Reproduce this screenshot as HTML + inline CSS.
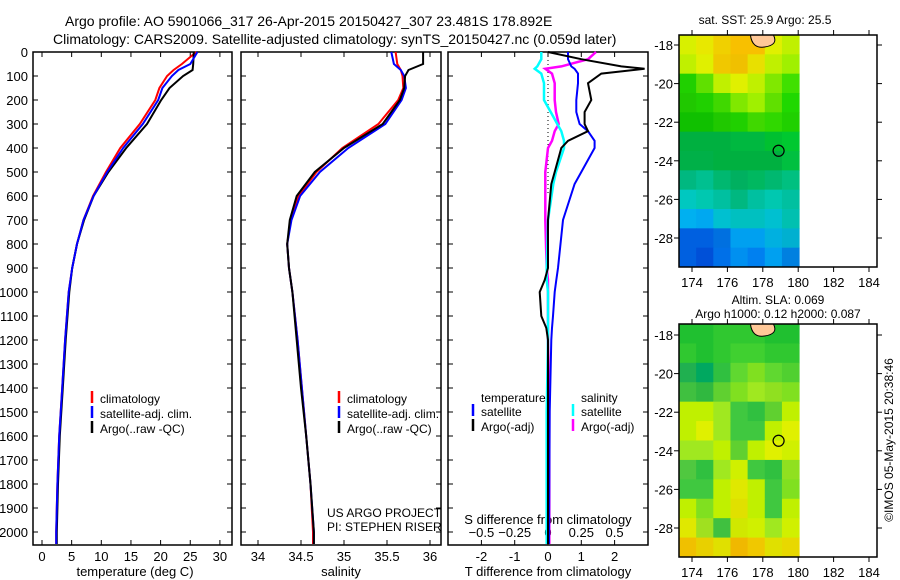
<!DOCTYPE html>
<html><head><meta charset="utf-8"><style>
body{margin:0;background:#fff;}
svg{display:block;font-family:"Liberation Sans",sans-serif;}
</style></head><body>
<svg id="c" width="900" height="580" viewBox="0 0 900 580" xmlns="http://www.w3.org/2000/svg">
<text x="65" y="26" font-size="14">Argo profile: AO 5901066_317 26-Apr-2015 20150427_307 23.481S 178.892E</text>
<text x="53" y="44" font-size="14">Climatology: CARS2009. Satellite-adjusted climatology: synTS_20150427.nc (0.059d later)</text>
<g id="g"></g>
</svg>
<script>
// ---- data ----
const depths   = [0,50,75,100,150,200,300,400,500,600,700,800,900,1000,1200,1400,1600,1800,2000,2050];
const tempArgo = [25.6,25.5,25.4,23.8,21.5,20.1,17.7,14.2,11.2,8.7,7.1,5.9,5.1,4.6,4.0,3.5,3.0,2.7,2.5,2.5];
const tempClim = [26.0,23.6,22.2,21.1,19.8,19.1,16.5,13.2,10.8,8.6,7.0,5.9,5.1,4.5,3.9,3.4,2.9,2.6,2.4,2.4];
const tempSat  = [26.2,25.0,23.0,21.9,20.3,19.6,17.0,13.7,11.0,8.7,7.0,5.9,5.1,4.5,3.9,3.4,2.9,2.6,2.4,2.4];
const salArgo  = [35.92,35.92,35.75,35.71,35.70,35.65,35.45,35.0,34.66,34.45,34.37,34.34,34.36,34.40,34.45,34.50,34.56,34.61,34.65,34.65];
const salClim  = [35.60,35.62,35.66,35.68,35.69,35.63,35.40,34.98,34.68,34.47,34.38,34.34,34.36,34.40,34.46,34.51,34.56,34.61,34.64,34.64];
const salSat   = [35.55,35.58,35.66,35.70,35.72,35.67,35.48,35.05,34.72,34.49,34.39,34.34,34.36,34.40,34.46,34.51,34.56,34.61,34.65,34.65];
const dDepths  = [0,30,60,70,90,130,200,250,300,330,370,400,500,550,700,900,950,1000,1100,1150,1200,1500,2050];
const dTArgo   = [0,1.0,2.2,2.9,1.6,1.2,1.3,1.1,1.1,1.2,0.6,0.4,0.2,0.1,0,0,-0.1,-0.25,-0.2,-0.05,0,0,0];
const dTSat    = [0.6,0.6,0.7,0.8,0.9,0.9,0.85,0.85,0.95,1.2,1.4,1.4,1.0,0.8,0.45,0.3,0.25,0.2,0.15,0.12,0.1,0.05,0.03];
const dSArgo   = [0.36,0.3,0.1,-0.02,0.03,0.05,0.05,0.06,0.08,0.05,0.03,0.0,-0.02,-0.02,-0.02,-0.01,0,0,0,0,0,0.01,0.01];
const dSSat    = [-0.05,-0.05,-0.08,-0.1,-0.05,-0.03,-0.03,0.02,0.07,0.1,0.12,0.12,0.06,0.04,0.0,-0.01,-0.01,0,0,0,0,-0.01,-0.01];
const depthTicks = [0,100,200,300,400,500,600,700,800,900,1000,1100,1200,1300,1400,1500,1600,1700,1800,1900,2000];
const tempTicks = [0,5,10,15,20,25,30];
const salTicks = [34,34.5,35,35.5,36];
const tTicks = [-2,-1,0,1,2];
const sTicks = [-0.5,-0.25,0,0.25,0.5];
const sstColors = [
["#d8f000","#e8e800","#f0d000","#f8c000","#f8c000","#e0f000","#c0f000"],
["#c0f000","#e0f000","#f0c800","#f0c000","#e8e000","#c0f000","#a0f000"],
["#20d000","#60e000","#c0f000","#e0f000","#c0f000","#80e800","#40e000"],
["#20c800","#20d000","#40d800","#80e800","#a0f000","#60e000","#20d800"],
["#10c000","#10c000","#20c800","#20d000","#40d800","#30d800","#20d000"],
["#00b040","#00b040","#00b040","#00b840","#00b840","#00c030","#00c830"],
["#00b048","#00b048","#00b040","#00b040","#00b040","#00b040","#00c040"],
["#00b880","#00c090","#00b870","#00b060","#00b860","#00b870","#00c080"],
["#00c8c0","#00c8b0","#00c0a0","#00b880","#00c0a0","#00c8b0","#00c0a0"],
["#00b0f0","#00a8f0","#00c0d0","#00c0c0","#00c0c0","#00c0d0","#00c0b0"],
["#0060e0","#0060e0","#0070e0","#00a0f0","#00a0f0","#00b0e0","#00b0d0"],
["#0060e0","#0050d8","#0070e8","#0090f0","#0080f0","#00a0f0","#0080e0"]];
const slaColors = [
["#20c030","#20c030","#30c830","#30c830","#30c830","#20c030","#20c030"],
["#30c830","#20c030","#30c830","#40d030","#40d030","#30c830","#30c830"],
["#20b050","#00a860","#30c040","#60d830","#80e020","#60d830","#50d030"],
["#40c040","#30b840","#60d030","#80e020","#a0e820","#90e020","#80e020"],
["#c0f000","#c0f000","#a0e820","#40c840","#30c040","#60d030","#c0f000"],
["#c0f000","#e0f000","#a0e820","#40c840","#40c840","#c0f000","#e0f000"],
["#a0e820","#a0e820","#c0f000","#60d030","#c0f000","#e0f000","#d0f000"],
["#50c840","#30c040","#a0e820","#d0f000","#40c840","#30c040","#90e020"],
["#40c840","#40c840","#c0f000","#e0e800","#c0f000","#40c840","#80e020"],
["#c0f000","#80e020","#c0f000","#e0e000","#c0f000","#40c840","#c0f000"],
["#e0e800","#a0e020","#40c040","#d0e800","#d0f000","#a0e820","#d0f000"],
["#f0c000","#e8d000","#e0e000","#f0b800","#f0c800","#e0e000","#e8d800"]];
const lonTicks=[174,176,178,180,182,184];
const latTicks=[-18,-20,-22,-24,-26,-28];
const argoLon=178.892, argoLat=-23.481;

// ---- drawing ----
const NS="http://www.w3.org/2000/svg";
const G=document.getElementById('g');
function mk(tag,attrs,parent){const e=document.createElementNS(NS,tag);for(const k in attrs)e.setAttribute(k,attrs[k]);(parent||G).appendChild(e);return e;}
const top0=52, bot=545;
const yD=d=>top0+d*0.24;
const panels=[{x0:33,x1:232},{x0:241,x1:441},{x0:448,x1:648}];
const xT=v=>42+v*5.93;
const xS=v=>258+(v-34)*86;
const xdT=v=>548+v*33.3;
const xdS=v=>548+v*133.2;

function line(xs,ys,xf,yf,color,w,name){
  const p=mk('polyline',{points:xs.map((v,i)=>xf(v).toFixed(1)+','+yf(ys[i]).toFixed(1)).join(' '),fill:'none',stroke:color,'stroke-width':w});
  
  
}
function txt(x,y,s,size,anchor,name,extra){
  const t=mk('text',Object.assign({x:x,y:y,'font-size':size,'text-anchor':anchor||'start'},extra||{}));t.textContent=s;
  
  
  return t;
}
panels.forEach((p,i)=>{
  const r=mk('rect',{x:p.x0,y:top0,width:p.x1-p.x0,height:bot-top0,fill:'none',stroke:'#000','stroke-width':1.5});
  
  
  depthTicks.forEach(d=>{mk('line',{x1:p.x0,x2:p.x0+5,y1:yD(d),y2:yD(d),stroke:'#000'});mk('line',{x1:p.x1-5,x2:p.x1,y1:yD(d),y2:yD(d),stroke:'#000'});});
});
depthTicks.forEach(d=>txt(28,yD(d)+5,String(d),13,'end','depth-tick-label'));
function xticks(ticks,xf,p,labels,name){ticks.forEach(v=>{const x=xf(v);mk('line',{x1:x,x2:x,y1:bot,y2:bot-5,stroke:'#000'});mk('line',{x1:x,x2:x,y1:top0,y2:top0+5,stroke:'#000'});if(labels)txt(x,bot+16,String(v),13,'middle',name);});}
xticks(tempTicks,xT,panels[0],true,'temp-tick-label');
xticks(salTicks,xS,panels[1],true,'salinity-tick-label');
xticks(tTicks,xdT,panels[2],true,'tdiff-tick-label');
sTicks.forEach(v=>txt(xdS(v),bot-8,String(v).replace('-','−'),13,'middle','sdiff-tick-label'));
txt(135,576,'temperature (deg C)',13,'middle','x-axis-title-temperature');
txt(341,576,'salinity',13,'middle','x-axis-title-salinity');
txt(548,576,'T difference from climatology',13,'middle','x-axis-title-tdiff');
txt(548,524,'S difference from climatology',13,'middle','x-axis-title-sdiff');
const zl=mk('line',{x1:548,x2:548,y1:top0,y2:yD(600),stroke:'#000','stroke-dasharray':'1,3'});


line(tempClim,depths,xT,yD,'#f00',2,'temp-climatology-line');
line(tempArgo,depths,xT,yD,'#000',2,'temp-argo-line');
line(tempSat,depths,xT,yD,'#00f',2,'temp-satellite-line');
line(salClim,depths,xS,yD,'#f00',2,'sal-climatology-line');
line(salSat,depths,xS,yD,'#00f',2,'sal-satellite-line');
line(salArgo,depths,xS,yD,'#000',2,'sal-argo-line');
line(dSArgo,dDepths,xdS,yD,'#f0f',2.5,'dsal-argo-line');
line(dSSat,dDepths,xdS,yD,'#0ff',2.5,'dsal-satellite-line');
line(dTSat,dDepths,xdT,yD,'#00f',2,'dtemp-satellite-line');
line(dTArgo,dDepths,xdT,yD,'#000',2,'dtemp-argo-line');
function leg(x,y,color,label,name){const l=mk('line',{x1:x,x2:x,y1:y-12,y2:y,stroke:color,'stroke-width':2.5});txt(x+8,y,label,12,'start',name);}
[[92,'#f00','climatology'],[92,'#00f','satellite-adj. clim.'],[92,'#000','Argo(..raw -QC)']].forEach((a,i)=>leg(a[0],403+i*15,a[1],a[2],'legend-entry-p1'));
[[339,'#f00','climatology'],[339,'#00f','satellite-adj. clim.'],[339,'#000','Argo(..raw -QC)']].forEach((a,i)=>leg(a[0],403+i*15,a[1],a[2],'legend-entry-p2'));
txt(481,402,'temperature',12,'start','legend-title-temperature');
txt(581,402,'salinity',12,'start','legend-title-salinity');
leg(473,416,'#00f','satellite','legend-entry-tsat');
leg(473,431,'#000','Argo(-adj)','legend-entry-targo');
leg(573,416,'#0ff','satellite','legend-entry-ssat');
leg(573,431,'#f0f','Argo(-adj)','legend-entry-sargo');
txt(327,517,'US ARGO PROJECT',12,'start','project-label');
txt(327,531,'PI: STEPHEN RISER',12,'start','pi-label');
function map(y0,y1,latTop,colors,name){
  const x0=679,x1=877;
  const lonX=l=>692+(l-174)*17.7;
  const latY=l=>latTop+(-18-l)*19.3;
  const cw=(lonX(180.05)-x0)/7, ch=(y1-y0)/12;
  colors.forEach((row,r)=>row.forEach((c,k)=>{const e=mk('rect',{x:x0+k*cw,y:y0+r*ch,width:cw+0.5,height:ch+0.5,fill:c});
    
    }));
  const land=mk('path',{d:`M${lonX(177.3)},${y0} Q${lonX(177.4)},${y0+14} ${lonX(178.1)},${y0+12} Q${lonX(178.9)},${y0+10} ${lonX(178.6)},${y0} Z`,fill:'#ffc898',stroke:'#000'});
  
  
  const fr=mk('rect',{x:x0,y:y0,width:x1-x0,height:y1-y0,fill:'none',stroke:'#000','stroke-width':1.5});
  
  
  lonTicks.forEach(l=>{const x=lonX(l);mk('line',{x1:x,x2:x,y1:y1,y2:y1+5,stroke:'#000'});mk('line',{x1:x,x2:x,y1:y0,y2:y0-5,stroke:'#000'});txt(x,y1+20,String(l),13,'middle',name+'-lon-label');});
  latTicks.forEach(l=>{const y=latY(l);mk('line',{x1:x0,x2:x0-5,y1:y,y2:y,stroke:'#000'});mk('line',{x1:x1,x2:x1+5,y1:y,y2:y,stroke:'#000'});txt(x0-6,y+5,String(l),13,'end',name+'-lat-label');});
  const c=mk('circle',{cx:lonX(argoLon),cy:latY(argoLat),r:5.5,fill:'none',stroke:'#000','stroke-width':1.2});
  
  
}
map(35,267,45,sstColors,'sst-map');
map(324,557,335,slaColors,'sla-map');
txt(765,24,'sat. SST: 25.9 Argo: 25.5',12,'middle','sst-map-title');
txt(778,304,'Altim. SLA: 0.069',12,'middle','sla-map-title');
txt(778,318,'Argo h1000: 0.12 h2000: 0.087',12,'middle','sla-map-subtitle');
txt(0,0,'©IMOS 05-May-2015 20:38:46',12,'middle','imos-credit',{transform:'translate(893,440) rotate(-90)'});
</script>
</body></html>
